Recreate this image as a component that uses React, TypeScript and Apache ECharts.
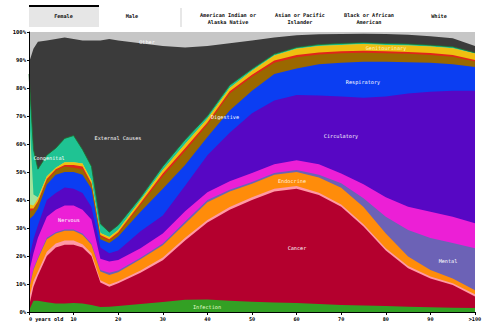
import React, { useEffect, useRef } from "react";
import * as echarts from "echarts";

const ages = [0, 1, 2, 4, 6, 8, 10, 12, 14, 16, 18, 20, 25, 30, 35, 40, 45, 50, 55, 60, 65, 70, 75, 80, 85, 90, 95, 100];
const xTickLabels = ["0 years old", "10", "20", "30", "40", "50", "60", "70", "80", "90", ">100"];
const tabs = ["Female", "Male", "American Indian or\nAlaska Native", "Asian or Pacific\nIslander", "Black or African\nAmerican", "White"];

const infection = [0.5, 4, 4, 3.5, 3, 3, 3.2, 3, 2.5, 1.8, 1.9, 2.1, 2.9, 3.6, 4.4, 4.5, 4, 3.7, 3.4, 3.2, 2.9, 2.5, 2.3, 2.1, 1.9, 1.7, 1.5, 1.4];
const cancer = [1.5, 5, 9, 16.5, 20, 21, 20.8, 20, 17.5, 8.7, 7.1, 8.2, 11.1, 14.9, 21.1, 27.5, 32.5, 36.3, 39.6, 40.8, 38.9, 35.1, 28.2, 19.9, 13.7, 10.3, 8.1, 4.1];
const blood = [3, 2, 1.5, 1.5, 1.5, 1.5, 1.5, 1.2, 1, 0.8, 0.8, 0.7, 0.8, 1, 1, 0.9, 1, 1, 1, 1, 0.8, 0.8, 0.8, 0.8, 0.8, 0.7, 0.7, 0.8];
const endocrine = [3, 4, 4.5, 4.5, 3.5, 3.5, 3.5, 3.3, 3, 3.2, 3.4, 3.2, 4, 4.3, 5, 6.3, 5.5, 4.8, 5, 5, 5.4, 6, 6.2, 5.2, 3.4, 2.3, 1.7, 1.5];
const mental = [0.5, 0.5, 0.5, 0.5, 0.5, 0.5, 0.5, 0.5, 0.5, 0.5, 0.8, 0.6, 0.6, 0.7, 0.8, 0.8, 0.7, 0.6, 0.6, 0.7, 1, 1.6, 3.1, 6, 9.5, 11.4, 12.6, 15];
const nervous = [5.5, 5.5, 7, 7.5, 8, 8.5, 8.5, 8.5, 8.5, 4, 4, 3.8, 3.4, 3.5, 3.7, 2.8, 3, 3.2, 3.2, 3.5, 3.8, 3.5, 5, 7, 8.3, 9.4, 9.4, 8.9];
const circulatory = [5, 5, 4.5, 6, 6, 6.5, 6, 6, 4.5, 4, 3, 3.4, 6, 6.5, 9.1, 13.2, 17.3, 21.4, 22.7, 23.3, 24.5, 27.5, 30.9, 36, 40.4, 42.9, 45, 47.3];
const respiratory = [14, 8.5, 6, 5.5, 6.5, 5.5, 6, 6.5, 6.5, 3, 3.6, 5, 7, 9.5, 7.4, 6.5, 8, 8, 9.5, 9.5, 11.2, 12, 12.9, 12.4, 11.2, 10.3, 9.5, 8.5];
const digestive = [3, 2, 2, 1.5, 1.5, 2, 1.5, 2, 1.5, 1, 0.9, 1, 2.5, 4.5, 5, 4.5, 6, 5, 4, 4, 3.5, 3.4, 3.2, 3, 3, 2.8, 2.7, 2];
const musculoskeletal = [1, 0.5, 0.5, 0.5, 0.5, 0.5, 1, 1, 0.5, 0.5, 0.5, 0.5, 0.6, 1, 1, 0.7, 0.8, 0.7, 0.8, 0.8, 0.7, 0.7, 0.7, 0.7, 0.7, 0.7, 0.6, 0.5];
const genitourinary = [1.5, 1, 1, 1, 0.5, 1, 1, 1, 1, 0.7, 0.8, 0.8, 1, 1.2, 1.5, 1.3, 1.2, 1.5, 1.8, 2.2, 2.3, 2.3, 2.4, 2.3, 2.3, 2.3, 2.4, 2.3];
const perinatal = [33.5, 4, 0.5, 0, 0, 0, 0, 0, 0, 0, 0, 0, 0, 0, 0, 0, 0, 0, 0, 0, 0, 0, 0, 0, 0, 0, 0, 0];
const congenital = [13, 16, 10, 7.5, 7, 8.5, 9.5, 5, 5, 3.3, 1.7, 1.7, 1, 1.3, 1.5, 1, 1, 0.6, 0.5, 0.5, 0.5, 0.5, 0.5, 0.5, 0.5, 0.5, 0.5, 0.3];
const external = [4, 36, 45.5, 41, 39, 36, 34.5, 39, 45, 65.5, 69, 66, 55.1, 43, 33, 25, 15, 10.2, 5.9, 4.3, 3.7, 3.4, 3.2, 3.4, 3.3, 3.2, 3.1, 2.4];
const other = [11, 6, 3.5, 3, 2.5, 2, 2.5, 3, 3, 3, 2.5, 3, 4, 5, 5.5, 5, 4, 3, 2, 1.2, 0.8, 0.7, 0.6, 0.7, 1, 1.5, 2.2, 5];

const layers = [
  { name: "Infection", values: infection, color: "#33a024" },
  { name: "Cancer", values: cancer, color: "#b4002e" },
  { name: "Blood", values: blood, color: "#ff9aa6" },
  { name: "Endocrine", values: endocrine, color: "#ff8c0a" },
  { name: "Mental", values: mental, color: "#6c62b6" },
  { name: "Nervous", values: nervous, color: "#ec1fd6" },
  { name: "Circulatory", values: circulatory, color: "#5707c4" },
  { name: "Respiratory", values: respiratory, color: "#0b3ef2" },
  { name: "Digestive", values: digestive, color: "#9a6800" },
  { name: "Musculoskeletal", values: musculoskeletal, color: "#e0251a" },
  { name: "Genitourinary", values: genitourinary, color: "#efbf10" },
  { name: "Perinatal", values: perinatal, color: "#a3e39c" },
  { name: "Congenital", values: congenital, color: "#1fc393" },
  { name: "External Causes", values: external, color: "#3b3b3b" },
  { name: "Other", values: other, color: "#c6c6c6" },
];

const MONO = "'DejaVu Sans Mono', 'Liberation Mono', monospace";

export default function App() {
  const ref = useRef<HTMLDivElement>(null);
  useEffect(() => {
    document.body.style.margin = "0";
    if (!ref.current) return;
    const chart = echarts.init(ref.current, undefined, { renderer: "svg" });
    const totals = ages.map((_, i) => layers.reduce((s, l) => s + l.values[i], 0));
    // cumulative (stacked) share of each layer, as a percentage of all deaths at that age
    const running = ages.map(() => 0);
    const stacked = layers.map((l) => {
      const tops = ages.map((a, i) => {
        running[i] += (l.values[i] / totals[i]) * 100;
        return [a, Math.min(100, running[i])];
      });
      return { ...l, tops };
    });
    // paint from the top layer down so each lower layer covers the one above it
    const series = stacked
      .slice()
      .reverse()
      .map((l) => ({
        name: l.name,
        type: "line",
        symbol: "none",
        silent: true,
        data: l.tops,
        lineStyle: l.name === "Congenital" ? { width: 0.8, color: "#1f6e2a" } : { width: 0 },
        areaStyle: { color: l.color, opacity: 1, origin: "start" },
        itemStyle: { color: l.color },
        z: 2,
      }));

    const label = (text: string, x: number, y: number, color = "#ffffff") => ({
      type: "text",
      x,
      y,
      z: 100,
      silent: true,
      style: { text, fill: color, font: `5.2px ${MONO}`, textAlign: "center", textVerticalAlign: "middle" },
    });

    const tabCenters = [63.5, 132, 228, 300, 369, 439];
    const tabText = tabs.map((t, i) => ({
      type: "text",
      x: tabCenters[i],
      y: t.includes("\n") ? 18.5 : 15.5,
      z: 100,
      style: { text: t, fill: "#111", font: `bold 5.2px ${MONO}`, textAlign: "center", textVerticalAlign: "middle", lineHeight: 6.8 },
    }));

    chart.setOption({
      animation: false,
      backgroundColor: "#ffffff",
      grid: { left: 29, right: 25, top: 32, bottom: 21, containLabel: false },
      xAxis: {
        type: "value",
        min: 0,
        max: 100,
        interval: 10,
        z: 10,
        axisLine: { show: true, lineStyle: { color: "#000", width: 1 } },
        axisTick: { show: true, length: 3, lineStyle: { color: "#000" } },
        splitLine: { show: false },
        axisLabel: {
          formatter: (v: number) => xTickLabels[Math.round(v / 10)] ?? "",
          fontFamily: MONO,
          fontSize: 5.2,
          fontWeight: "bold",
          color: "#000",
          margin: 4,
          alignMinLabel: "left",
        },
      },
      yAxis: {
        type: "value",
        min: 0,
        max: 100,
        interval: 10,
        z: 10,
        axisLine: { show: true, lineStyle: { color: "#000", width: 1 } },
        axisTick: { show: true, length: 2, lineStyle: { color: "#000" } },
        splitLine: { show: false },
        axisLabel: {
          formatter: "{value}%",
          fontFamily: MONO,
          fontSize: 5.5,
          fontWeight: "bold",
          color: "#000",
          margin: 3,
        },
      },
      series,
      graphic: [
        { type: "rect", z: 90, shape: { x: 29, y: 6, width: 70, height: 21 }, style: { fill: "#e6e6e6" } },
        { type: "rect", z: 91, shape: { x: 29, y: 5, width: 70, height: 2 }, style: { fill: "#000" } },
        { type: "line", z: 90, shape: { x1: 181, y1: 8, x2: 181, y2: 27 }, style: { stroke: "#cfcfcf", lineWidth: 1 } },
        ...tabText,
        label("Other", 147, 41.5),
        label("External Causes", 118, 138),
        label("Congenital", 49, 158),
        label("Nervous", 69, 220),
        label("Digestive", 225, 117),
        label("Respiratory", 363, 82),
        label("Circulatory", 341, 136),
        label("Genitourinary", 386, 47.5, "#fff3c0"),
        label("Endocrine", 292, 181, "#fff0dc"),
        label("Cancer", 297, 247.5),
        label("Mental", 448, 261),
        label("Infection", 207, 306.5, "#e8ffd0"),
      ],
    });
    return () => chart.dispose();
  }, []);
  return <div ref={ref} style={{ position: "fixed", left: 0, top: 0, width: 500, height: 333 }} />;
}
